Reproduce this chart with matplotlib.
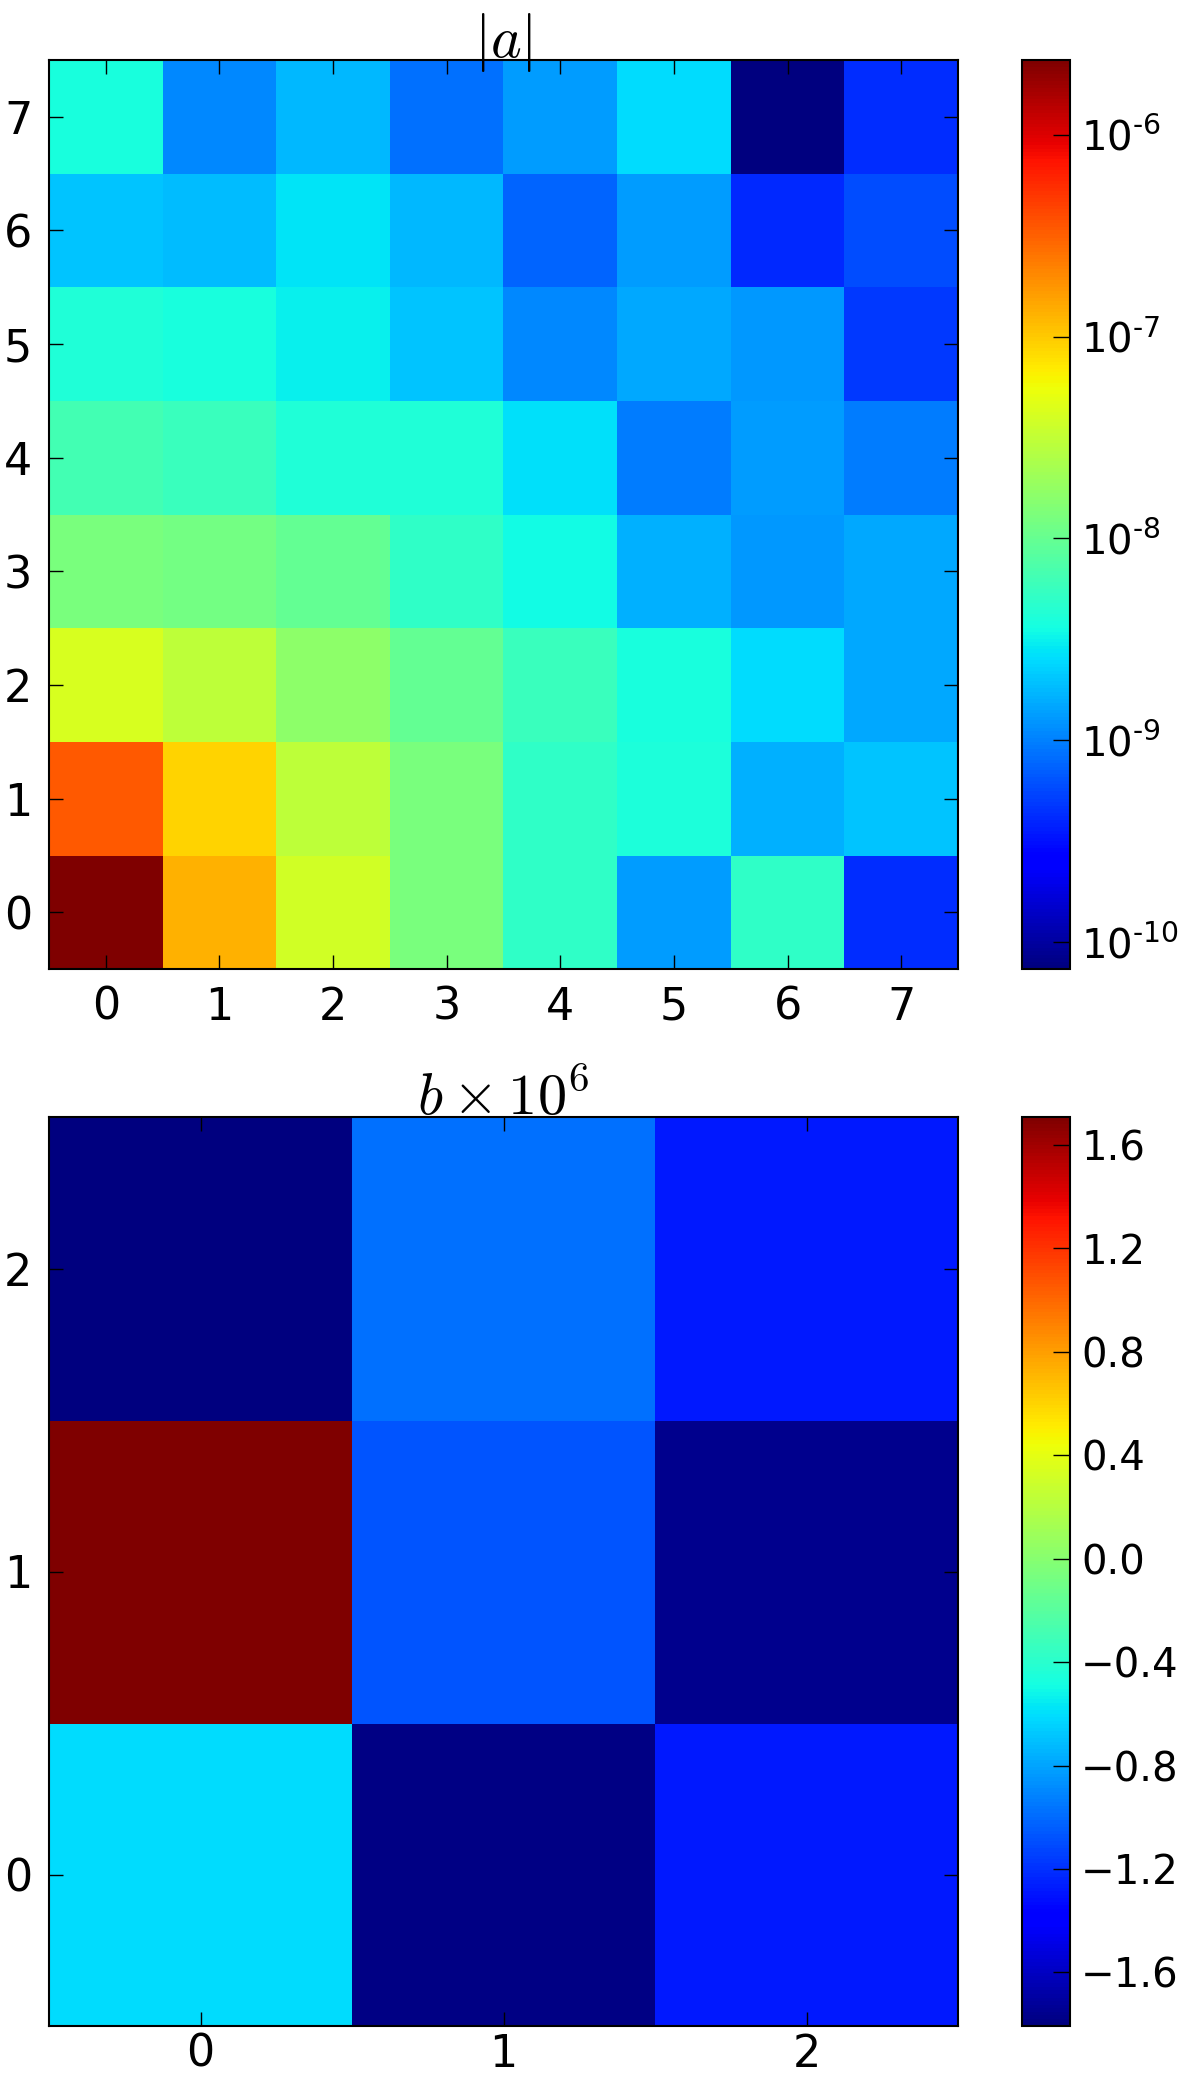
import numpy as np
import matplotlib
matplotlib.use("Agg")
import matplotlib.pyplot as plt
from matplotlib.colors import LogNorm
from matplotlib.ticker import FixedLocator, FixedFormatter, NullLocator

plt.rcParams['font.family'] = ['DejaVu Sans']
plt.rcParams['mathtext.fontset'] = 'dejavusans'

# |a| values, rows are y = 0..7, columns x = 0..7
a_row0 = [2.35e-6, 1.29e-7, 3.90e-8, 1.31e-8, 5.16e-9, 1.34e-9, 5.16e-9, 4.28e-10]
a_row1 = [3.45e-7, 8.96e-8, 3.01e-8, 1.31e-8, 5.16e-9, 3.98e-9, 1.65e-9, 1.97e-9]
a_row2 = [4.11e-8, 3.01e-8, 1.62e-8, 9.62e-9, 5.73e-9, 3.78e-9, 2.50e-9, 1.49e-9]
a_row3 = [1.31e-8, 1.18e-8, 9.62e-9, 5.16e-9, 3.59e-9, 1.65e-9, 1.27e-9, 1.49e-9]
a_row4 = [6.35e-9, 5.73e-9, 4.20e-9, 4.20e-9, 2.63e-9, 9.82e-10, 1.34e-9, 9.82e-10]
a_row5 = [4.20e-9, 3.78e-9, 3.08e-9, 2.03e-9, 1.09e-9, 1.49e-9, 1.27e-9, 4.75e-10]
a_row6 = [1.97e-9, 1.83e-9, 2.77e-9, 1.77e-9, 7.59e-10, 1.34e-9, 4.07e-10, 5.85e-10]
a_row7 = [3.78e-9, 1.09e-9, 1.74e-9, 8.41e-10, 1.34e-9, 2.50e-9, 7.35e-11, 4.28e-10]

# b x 10^6 values, rows are y = 0..2
b_row0 = [-0.61, -1.78, -1.28]
b_row1 = [1.707, -1.07, -1.76]
b_row2 = [-1.807, -0.98, -1.28]

a_ticks = [0, 1, 2, 3, 4, 5, 6, 7]
b_ticks = [0, 1, 2]
a_cbar_exponents = [-10, -9, -8, -7, -6]
b_cbar_ticks = [-1.6, -1.2, -0.8, -0.4, 0.0, 0.4, 0.8, 1.2, 1.6]

A = np.array([a_row0, a_row1, a_row2, a_row3, a_row4, a_row5, a_row6, a_row7])
B = np.array([b_row0, b_row1, b_row2])

W, H = 1200, 2081
fig = plt.figure(figsize=(W / 100, H / 100), dpi=100)

def fx(px):
    return px / W

def fy(top, bottom):
    return 1 - bottom / H, (bottom - top) / H

TICK_FS = 32
CBAR_FS = 29
TITLE_FS = 42

def style_axes(ax):
    ax.tick_params(direction='in', top=True, right=True, length=10, width=1,
                   labelsize=TICK_FS, pad=12)
    for s in ax.spines.values():
        s.set_linewidth(1.5)

def style_cax(cax):
    cax.tick_params(direction='in', left=False, right=True, length=12, width=1,
                    labelsize=CBAR_FS, pad=8)
    for s in cax.spines.values():
        s.set_linewidth(1.5)

# ---- top: |a|
y0, h = fy(60, 969)
ax1 = fig.add_axes([fx(49), y0, fx(958) - fx(49), h])
im1 = ax1.imshow(A, cmap='jet', norm=LogNorm(vmin=A.min(), vmax=A.max()),
                 origin='lower', interpolation='nearest', aspect='auto')
ax1.set_xticks(a_ticks)
ax1.set_yticks(a_ticks)
style_axes(ax1)
ax1.set_title(r'$|a|$', fontsize=TITLE_FS, pad=2, math_fontfamily='cm')

cax1 = fig.add_axes([fx(1022), y0, fx(1070) - fx(1022), h])
cb1 = fig.colorbar(im1, cax=cax1)
cb1.ax.yaxis.set_major_locator(FixedLocator([10.0 ** e for e in a_cbar_exponents]))
cb1.ax.yaxis.set_major_formatter(
    FixedFormatter([r'$10^{\text{-}%d}$' % abs(e) for e in a_cbar_exponents]))
cb1.ax.yaxis.set_minor_locator(NullLocator())
cb1.outline.set_linewidth(1.5)
style_cax(cax1)

# ---- bottom: b x 10^6
y0b, hb = fy(1117, 2026)
ax2 = fig.add_axes([fx(49), y0b, fx(958) - fx(49), hb])
im2 = ax2.imshow(B, cmap='jet', vmin=B.min(), vmax=B.max(),
                 origin='lower', interpolation='nearest', aspect='auto')
ax2.set_xticks(b_ticks)
ax2.set_yticks(b_ticks)
style_axes(ax2)
ax2.tick_params(axis='x', pad=5)
ax2.set_title(r'$b\times10^6$', fontsize=TITLE_FS, pad=2, math_fontfamily='cm')

cax2 = fig.add_axes([fx(1022), y0b, fx(1070) - fx(1022), hb])
cb2 = fig.colorbar(im2, cax=cax2)
cb2.ax.yaxis.set_major_locator(FixedLocator(b_cbar_ticks))
cb2.ax.yaxis.set_major_formatter(
    FixedFormatter([('\u2212' if v < 0 else '') + '%.1f' % abs(v) for v in b_cbar_ticks]))
cb2.ax.yaxis.set_minor_locator(NullLocator())
cb2.outline.set_linewidth(1.5)
style_cax(cax2)

fig.savefig('out.png', dpi=100)
